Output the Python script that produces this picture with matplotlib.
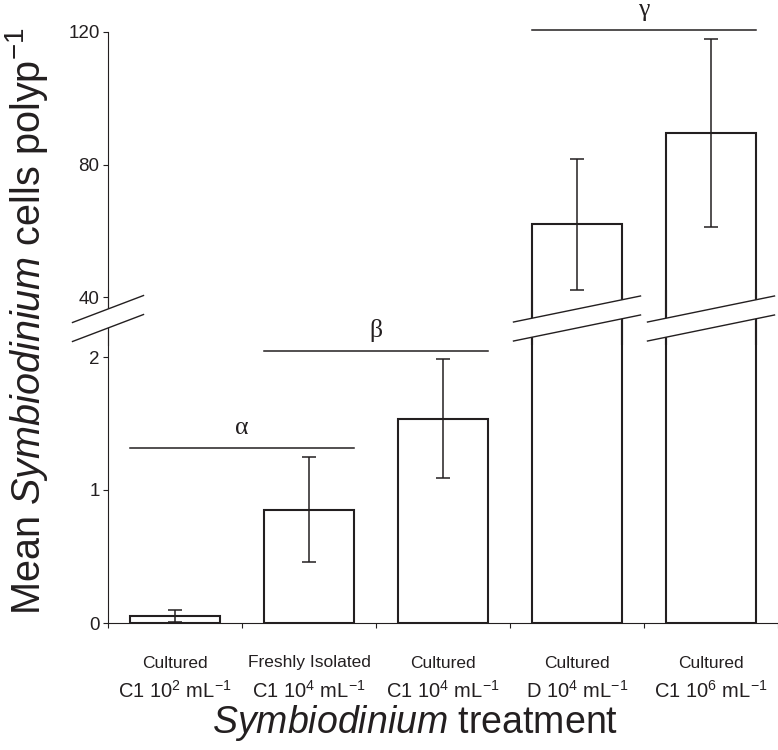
import numpy as np
import matplotlib
matplotlib.use('Agg')
import matplotlib.pyplot as plt
from matplotlib.patches import Polygon
from matplotlib.lines import Line2D
from matplotlib.transforms import IdentityTransform, blended_transform_factory

# данные
treat_top = ['Cultured', 'Freshly Isolated', 'Cultured', 'Cultured', 'Cultured']
treat_bot = [r'C1 10$^{2}$ mL$^{-1}$', r'C1 10$^{4}$ mL$^{-1}$', r'C1 10$^{4}$ mL$^{-1}$',
             r'D 10$^{4}$ mL$^{-1}$', r'C1 10$^{6}$ mL$^{-1}$']
means = [0.055, 0.85, 1.535, 62.0, 89.5]
errs = [0.045, 0.395, 0.447, 19.8, 28.4]

# группы значимости: буква, первый и последний столбец, высота линии
sig_letters = ['α', 'β', 'γ']
sig_first = [0, 1, 3]
sig_last = [1, 2, 4]
sig_height = [1.318, 2.047, 120.5]

lo_ticks = [0, 1, 2]
hi_ticks = [40, 80, 120]

plt.rcParams['font.family'] = 'Liberation Sans'
plt.rcParams['mathtext.fontset'] = 'custom'
plt.rcParams['mathtext.rm'] = 'Liberation Sans'
plt.rcParams['mathtext.it'] = 'Liberation Sans:italic'
plt.rcParams['mathtext.bf'] = 'Liberation Sans:bold'

ink = '#231f20'
W, H = 778, 750
DPI = 100


def fx(px):
    return px / W


def fy(py):
    return 1 - py / H


fig = plt.figure(figsize=(W / DPI, H / DPI), dpi=DPI)
fig.patch.set_facecolor('white')

# две оси: нижняя 0..2, верхняя 40..120, с разрывом
ax_lo = fig.add_axes([fx(108), fy(623), 670 / W, (623 - 290) / H])
ax_hi = fig.add_axes([fx(108), fy(345), 670 / W, (345 - 32) / H])
ax_lo.set_ylim(0, 333 / 133)
ax_hi.set_ylim(40 - 48 / 3.3125, 120)

x = np.arange(len(means))
bar_w = 0.665

for ax in (ax_lo, ax_hi):
    ax.set_facecolor('none')
    ax.bar(x, means, width=bar_w, color='none', edgecolor=ink, linewidth=1.5,
           yerr=errs, error_kw=dict(ecolor=ink, elinewidth=1.1, capsize=4.7, capthick=1.1))
    ax.set_xlim(-0.5, 4.5)
    ax.spines['top'].set_visible(False)
    ax.spines['right'].set_visible(False)
    ax.spines['left'].set_linewidth(0.8)
    ax.spines['left'].set_color(ink)
    ax.tick_params(axis='y', colors=ink, labelsize=13.5, length=3.6, width=0.8, pad=2.5)

ax_hi.spines['bottom'].set_visible(False)
ax_hi.set_xticks([])
ax_hi.set_yticks(hi_ticks)
ax_lo.set_yticks(lo_ticks)
ax_lo.spines['bottom'].set_linewidth(0.8)
ax_lo.spines['bottom'].set_color(ink)
ax_lo.set_xticks([])
ax_lo.set_xticks(np.arange(-0.5, 5.0, 1.0), minor=True)
ax_lo.tick_params(axis='x', which='minor', length=3.6, width=0.8, colors=ink)

# подписи категорий
tr = blended_transform_factory(ax_lo.transData, fig.transFigure)
for i in range(len(means)):
    ax_lo.text(i, fy(663), treat_top[i], transform=tr, ha='center', va='center',
               fontsize=12.5, color=ink)
    ax_lo.text(i, fy(698), treat_bot[i], transform=tr, ha='center', va='baseline',
               fontsize=14.5, color=ink)

# линии значимости
for k in range(len(sig_letters)):
    ax = ax_hi if sig_height[k] > 10 else ax_lo
    x0 = sig_first[k] - bar_w / 2
    x1 = sig_last[k] + bar_w / 2
    ax.plot([x0, x1], [sig_height[k], sig_height[k]], color=ink, lw=1.1, clip_on=False)
    ax.annotate(sig_letters[k], xy=((x0 + x1) / 2, sig_height[k]), xytext=(0, 10),
                textcoords='offset points', ha='center', va='baseline',
                fontsize=18.5, family='Liberation Serif', color=ink, annotation_clip=False)

# подписи осей
fig.text(fx(27), fy(321), r'Mean $\mathit{Symbiodinium}$ cells polyp$^{-1}$',
         rotation=90, ha='center', va='center', fontsize=28.5, color=ink)
fig.text(fx(415), fy(723), r'$\mathit{Symbiodinium}$ treatment',
         ha='center', va='center', fontsize=27, color=ink)


# значки разрыва
def draw_break(xc, yc, half_w, slope, gap):
    ident = IdentityTransform()
    up = [(xc - half_w, yc + gap / 2 - slope * half_w), (xc + half_w, yc + gap / 2 + slope * half_w)]
    dn = [(xc - half_w, yc - gap / 2 - slope * half_w), (xc + half_w, yc - gap / 2 + slope * half_w)]
    fig.add_artist(Polygon([up[0], up[1], dn[1], dn[0]], closed=True, facecolor='white',
                           edgecolor='none', transform=ident, zorder=10))
    for seg in (up, dn):
        fig.add_artist(Line2D([seg[0][0], seg[1][0]], [seg[0][1], seg[1][1]], color=ink,
                              lw=1.0, transform=ident, zorder=11))


px = DPI / 100.0
y_mid = ax_hi.transData.transform((0, 40))[1] - 21.5 * px
draw_break(ax_lo.transAxes.transform((0, 0))[0], y_mid, 35.5 * px, 0.38, 19 * px)
for i in range(len(means)):
    if means[i] > 10:
        xc = ax_lo.transData.transform((i, 0))[0]
        draw_break(xc, y_mid, 63.5 * px, 0.205, 19 * px)

fig.savefig('out.png', dpi=DPI)
